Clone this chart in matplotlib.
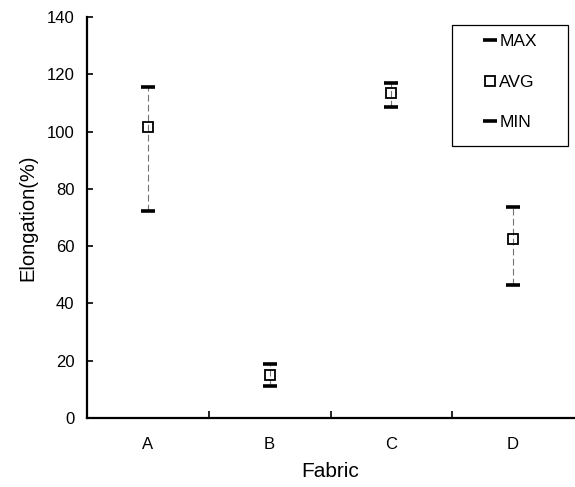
import matplotlib
matplotlib.use("Agg")
import matplotlib.pyplot as plt
from matplotlib.patches import Rectangle

plt.rcParams['font.family'] = ['Liberation Sans', 'DejaVu Sans']

# data
fabrics = ['A', 'B', 'C', 'D']
max_vals = [115.4, 18.9, 117.1, 73.8]
avg_vals = [101.7, 15.0, 113.4, 62.4]
min_vals = [72.3, 11.2, 108.7, 46.3]
y_ticks = [0, 20, 40, 60, 80, 100, 120, 140]

xpos = [i + 0.5 for i in range(len(fabrics))]

fig = plt.figure(figsize=(5.75, 4.87), dpi=100)
ax = fig.add_axes([87 / 575, 69 / 487, 487 / 575, 401 / 487])

# thin dashed range lines
ax.vlines(xpos, min_vals, max_vals, colors='0.45', linestyles=(0, (6, 3)), lw=0.8, zorder=1)

ax.plot(xpos, max_vals, ls='none', marker='_', ms=9.5, mew=2.6, color='black', label='MAX', zorder=3)
ax.plot(xpos, avg_vals, ls='none', marker='s', ms=7.8, mew=1.3, mfc='none', mec='black', label='AVG', zorder=3)
ax.plot(xpos, min_vals, ls='none', marker='_', ms=9.5, mew=2.6, color='black', label='MIN', zorder=3)

ax.set_xlim(0, 4)
ax.set_ylim(0, 140)
ax.set_yticks(y_ticks)
ax.set_xticks([1, 2, 3])
ax.set_xticklabels([])
ax.set_xticks(xpos, minor=True)
ax.set_xticklabels(fabrics, minor=True)

ax.tick_params(axis='y', direction='in', length=4, width=1.2, labelsize=12, pad=9)
ax.tick_params(axis='x', which='major', direction='in', length=5, width=1.2)
ax.tick_params(axis='x', which='minor', length=0, labelsize=12, pad=14)

for side in ['top', 'right']:
    ax.spines[side].set_visible(False)
for side in ['left', 'bottom']:
    ax.spines[side].set_linewidth(1.6)

ax.set_xlabel('Fabric', fontsize=15, labelpad=7)
ax.set_ylabel('Elongation(%)', fontsize=14.5, labelpad=7)

# legend with its own frame box
box = Rectangle(((452 - 87) / 487, (418 - 146) / 401), 116 / 487, 121 / 401,
                transform=ax.transAxes, fill=False, ec='black', lw=0.9, zorder=4)
ax.add_patch(box)
ax.legend(loc='center', bbox_to_anchor=((510 - 87) / 487, (418 - 82) / 401),
          frameon=False, fontsize=12.5, handlelength=0.8, handletextpad=0.15,
          labelspacing=1.45, borderpad=0, markerscale=1.0)

fig.savefig('out.png', dpi=100)
